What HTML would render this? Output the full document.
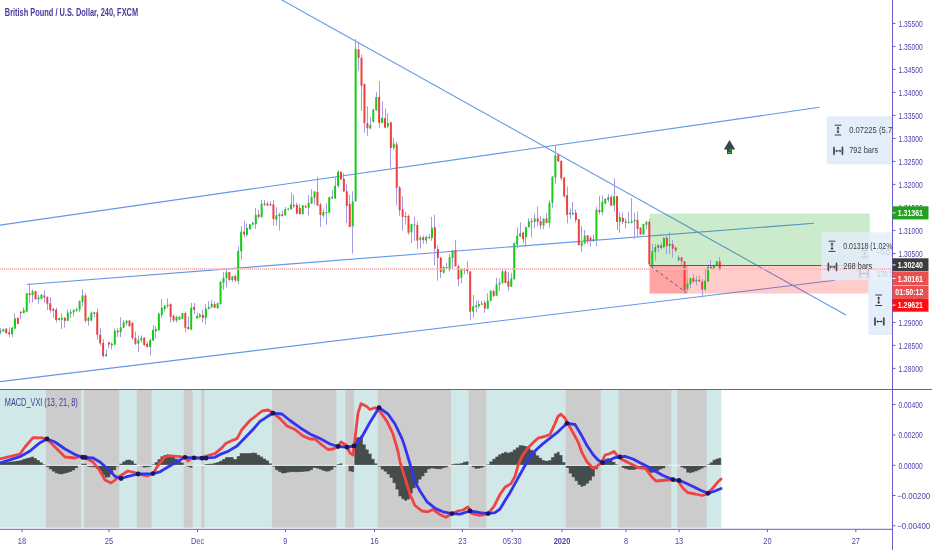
<!DOCTYPE html><html><head><meta charset="utf-8"><style>html,body{margin:0;padding:0;background:#fff;width:932px;height:550px;overflow:hidden}</style></head><body><svg width="932" height="550" viewBox="0 0 932 550" style="display:block;filter:blur(0.3px)">
<rect x="0" y="0" width="932" height="550" fill="#ffffff"/>
<rect x="0" y="390.0" width="721.26" height="137.60" fill="#d1e8e8"/>
<rect x="45.82" y="390.0" width="35.24" height="137.60" fill="#cccccc"/>
<rect x="84.00" y="390.0" width="35.24" height="137.60" fill="#cccccc"/>
<rect x="136.86" y="390.0" width="14.68" height="137.60" fill="#cccccc"/>
<rect x="183.84" y="390.0" width="8.81" height="137.60" fill="#cccccc"/>
<rect x="201.46" y="390.0" width="2.94" height="137.60" fill="#cccccc"/>
<rect x="271.94" y="390.0" width="64.61" height="137.60" fill="#cccccc"/>
<rect x="345.36" y="390.0" width="8.81" height="137.60" fill="#cccccc"/>
<rect x="377.67" y="390.0" width="73.42" height="137.60" fill="#cccccc"/>
<rect x="468.70" y="390.0" width="17.62" height="137.60" fill="#cccccc"/>
<rect x="565.61" y="390.0" width="35.24" height="137.60" fill="#cccccc"/>
<rect x="618.48" y="390.0" width="52.86" height="137.60" fill="#cccccc"/>
<rect x="677.21" y="390.0" width="29.37" height="137.60" fill="#cccccc"/>
<path d="M-1.17,465.2 L-1.17,462.66 L1.77,462.66 L1.77,462.31 L4.71,462.31 L4.71,461.96 L7.64,461.96 L7.64,461.61 L10.58,461.61 L10.58,461.30 L13.52,461.30 L13.52,461.00 L16.45,461.00 L16.45,460.59 L19.39,460.59 L19.39,459.97 L22.33,459.97 L22.33,458.86 L25.26,458.86 L25.26,457.95 L28.20,457.95 L28.20,457.19 L31.14,457.19 L31.14,456.58 L34.07,456.58 L34.07,458.04 L37.01,458.04 L37.01,459.97 L39.95,459.97 L39.95,462.20 L42.88,462.20 L42.88,464.26 L45.82,464.26 L45.82,467.21 L48.76,467.21 L48.76,469.38 L51.69,469.38 L51.69,471.73 L54.63,471.73 L54.63,473.40 L57.57,473.40 L57.57,474.35 L60.50,474.35 L60.50,474.50 L63.44,474.50 L63.44,473.85 L66.38,473.85 L66.38,473.05 L69.31,473.05 L69.31,472.03 L72.25,472.03 L72.25,470.62 L75.19,470.62 L75.19,468.35 L78.12,468.35 L78.12,465.41 L81.06,465.41 L81.06,463.60 L84.00,463.60 L84.00,463.60 L86.93,463.60 L86.93,467.03 L89.87,467.03 L89.87,467.29 L92.81,467.29 L92.81,467.54 L95.74,467.54 L95.74,469.10 L98.68,469.10 L98.68,471.21 L101.62,471.21 L101.62,475.32 L104.55,475.32 L104.55,477.86 L107.49,477.86 L107.49,477.45 L110.43,477.45 L110.43,474.53 L113.36,474.53 L113.36,470.25 L116.30,470.25 L116.30,466.68 L119.24,466.68 L119.24,463.59 L122.17,463.59 L122.17,461.35 L125.11,461.35 L125.11,459.71 L128.05,459.71 L128.05,459.38 L130.98,459.38 L130.98,460.45 L133.92,460.45 L133.92,463.39 L136.86,463.39 L136.86,465.16 L139.79,465.16 L139.79,466.50 L142.73,466.50 L142.73,467.68 L145.67,467.68 L145.67,467.57 L148.60,467.57 L148.60,466.93 L151.54,466.93 L151.54,464.33 L154.48,464.33 L154.48,462.05 L157.41,462.05 L157.41,459.12 L160.35,459.12 L160.35,456.18 L163.29,456.18 L163.29,454.90 L166.22,454.90 L166.22,454.14 L169.16,454.14 L169.16,454.73 L172.10,454.73 L172.10,456.25 L175.03,456.25 L175.03,458.60 L177.97,458.60 L177.97,460.46 L180.91,460.46 L180.91,462.31 L183.84,462.31 L183.84,464.76 L186.78,464.76 L186.78,467.08 L189.72,467.08 L189.72,467.88 L192.65,467.88 L192.65,465.96 L195.59,465.96 L195.59,465.00 L198.53,465.00 L198.53,465.00 L201.46,465.00 L201.46,465.00 L204.40,465.00 L204.40,463.94 L207.34,463.94 L207.34,463.73 L210.27,463.73 L210.27,463.52 L213.21,463.52 L213.21,462.83 L216.15,462.83 L216.15,462.10 L219.08,462.10 L219.08,460.72 L222.02,460.72 L222.02,458.88 L224.96,458.88 L224.96,456.99 L227.89,456.99 L227.89,456.89 L230.83,456.89 L230.83,457.00 L233.77,457.00 L233.77,458.98 L236.70,458.98 L236.70,455.97 L239.64,455.97 L239.64,453.00 L242.58,453.00 L242.58,453.00 L245.51,453.00 L245.51,453.00 L248.45,453.00 L248.45,453.00 L251.39,453.00 L251.39,452.60 L254.32,452.60 L254.32,452.81 L257.26,452.81 L257.26,454.70 L260.20,454.70 L260.20,456.59 L263.13,456.59 L263.13,458.41 L266.07,458.41 L266.07,460.22 L269.01,460.22 L269.01,463.29 L271.94,463.29 L271.94,466.77 L274.88,466.77 L274.88,470.20 L277.82,470.20 L277.82,471.89 L280.75,471.89 L280.75,473.56 L283.69,473.56 L283.69,473.48 L286.63,473.48 L286.63,472.76 L289.56,472.76 L289.56,472.30 L292.50,472.30 L292.50,472.30 L295.44,472.30 L295.44,472.30 L298.38,472.30 L298.38,472.30 L301.31,472.30 L301.31,472.05 L304.25,472.05 L304.25,471.79 L307.19,471.79 L307.19,471.52 L310.12,471.52 L310.12,470.22 L313.06,470.22 L313.06,468.05 L316.00,468.05 L316.00,468.69 L318.93,468.69 L318.93,469.86 L321.87,469.86 L321.87,470.90 L324.81,470.90 L324.81,471.78 L327.74,471.78 L327.74,471.62 L330.68,471.62 L330.68,469.98 L333.62,469.98 L333.62,467.16 L336.55,467.16 L336.55,464.08 L339.49,464.08 L339.49,463.16 L342.43,463.16 L342.43,465.00 L345.36,465.00 L345.36,465.00 L348.30,465.00 L348.30,471.45 L351.24,471.45 L351.24,472.30 L354.17,472.30 L354.17,437.70 L357.11,437.70 L357.11,436.99 L360.05,436.99 L360.05,435.54 L362.98,435.54 L362.98,444.35 L365.92,444.35 L365.92,449.34 L368.86,449.34 L368.86,453.58 L371.79,453.58 L371.79,458.87 L374.73,458.87 L374.73,463.20 L377.67,463.20 L377.67,466.81 L380.60,466.81 L380.60,469.69 L383.54,469.69 L383.54,471.81 L386.48,471.81 L386.48,474.51 L389.41,474.51 L389.41,478.00 L392.35,478.00 L392.35,483.35 L395.29,483.35 L395.29,489.64 L398.22,489.64 L398.22,496.57 L401.16,496.57 L401.16,499.24 L404.10,499.24 L404.10,501.00 L407.03,501.00 L407.03,499.85 L409.97,499.85 L409.97,493.78 L412.91,493.78 L412.91,488.44 L415.84,488.44 L415.84,483.93 L418.78,483.93 L418.78,479.73 L421.72,479.73 L421.72,476.50 L424.65,476.50 L424.65,473.09 L427.59,473.09 L427.59,469.39 L430.53,469.39 L430.53,468.52 L433.46,468.52 L433.46,468.99 L436.40,468.99 L436.40,469.29 L439.34,469.29 L439.34,469.25 L442.27,469.25 L442.27,468.32 L445.21,468.32 L445.21,467.40 L448.15,467.40 L448.15,466.10 L451.08,466.10 L451.08,464.06 L454.02,464.06 L454.02,463.41 L456.96,463.41 L456.96,463.53 L459.89,463.53 L459.89,463.03 L462.83,463.03 L462.83,461.79 L465.77,461.79 L465.77,461.13 L468.70,461.13 L468.70,465.14 L471.64,465.14 L471.64,467.49 L474.58,467.49 L474.58,468.94 L477.51,468.94 L477.51,468.76 L480.45,468.76 L480.45,467.96 L483.39,467.96 L483.39,466.84 L486.32,466.84 L486.32,464.21 L489.26,464.21 L489.26,461.34 L492.20,461.34 L492.20,458.70 L495.13,458.70 L495.13,456.38 L498.07,456.38 L498.07,454.32 L501.01,454.32 L501.01,452.91 L503.94,452.91 L503.94,451.87 L506.88,451.87 L506.88,452.40 L509.82,452.40 L509.82,451.75 L512.75,451.75 L512.75,449.58 L515.69,449.58 L515.69,447.27 L518.63,447.27 L518.63,445.01 L521.56,445.01 L521.56,445.30 L524.50,445.30 L524.50,446.02 L527.44,446.02 L527.44,447.61 L530.37,447.61 L530.37,449.86 L533.31,449.86 L533.31,452.50 L536.25,452.50 L536.25,455.20 L539.18,455.20 L539.18,457.78 L542.12,457.78 L542.12,459.96 L545.06,459.96 L545.06,460.69 L547.99,460.69 L547.99,460.11 L550.93,460.11 L550.93,457.12 L553.87,457.12 L553.87,453.25 L556.80,453.25 L556.80,451.72 L559.74,451.72 L559.74,454.92 L562.68,454.92 L562.68,462.10 L565.61,462.10 L565.61,468.06 L568.55,468.06 L568.55,473.63 L571.49,473.63 L571.49,477.38 L574.42,477.38 L574.42,481.14 L577.36,481.14 L577.36,484.90 L580.30,484.90 L580.30,486.93 L583.23,486.93 L583.23,486.04 L586.17,486.04 L586.17,483.87 L589.11,483.87 L589.11,480.82 L592.05,480.82 L592.05,476.80 L594.98,476.80 L594.98,469.44 L597.92,469.44 L597.92,465.77 L600.86,465.77 L600.86,460.74 L603.79,460.74 L603.79,458.93 L606.73,458.93 L606.73,458.10 L609.67,458.10 L609.67,458.76 L612.60,458.76 L612.60,461.75 L615.54,461.75 L615.54,464.24 L618.48,464.24 L618.48,465.00 L621.41,465.00 L621.41,468.12 L624.35,468.12 L624.35,469.20 L627.29,469.20 L627.29,470.00 L630.22,470.00 L630.22,470.00 L633.16,470.00 L633.16,470.00 L636.10,470.00 L636.10,469.08 L639.03,469.08 L639.03,468.38 L641.97,468.38 L641.97,469.44 L644.91,469.44 L644.91,470.91 L647.84,470.91 L647.84,472.85 L650.78,472.85 L650.78,473.03 L653.72,473.03 L653.72,472.60 L656.65,472.60 L656.65,471.01 L659.59,471.01 L659.59,469.62 L662.53,469.62 L662.53,468.56 L665.46,468.56 L665.46,466.14 L668.40,466.14 L668.40,465.00 L671.34,465.00 L671.34,465.00 L674.27,465.00 L674.27,465.00 L677.21,465.00 L677.21,465.58 L680.15,465.58 L680.15,467.44 L683.08,467.44 L683.08,468.79 L686.02,468.79 L686.02,472.81 L688.96,472.81 L688.96,473.16 L691.89,473.16 L691.89,472.56 L694.83,472.56 L694.83,471.43 L697.77,471.43 L697.77,470.30 L700.70,470.30 L700.70,468.83 L703.64,468.83 L703.64,467.18 L706.58,467.18 L706.58,464.30 L709.51,464.30 L709.51,462.21 L712.45,462.21 L712.45,459.87 L715.39,459.87 L715.39,458.47 L718.32,458.47 L718.32,457.64 L721.26,457.64 L721.26,465.2 Z" fill="#454c4c" stroke="#ffffff" stroke-opacity="0.55" stroke-width="0.6"/>
<line x1="0" y1="465.5" x2="721.26" y2="465.5" stroke="#eef6f6" stroke-width="0.8"/>
<polyline points="0,459 20,454 25,447 33,437.6 42,437.8 47,439 55,447 65,457 75,458 82,456 93,462 100,471 105,480 111,483 115,480 120,476 128,471 135,472.7 140,474.5 147,476 153,473.6 158,465.5 165,457 170,455.8 180,456.7 186,457.8 188,461 192,458 200,458 208,455.5 215,453.6 222,447.6 226,443.2 232,440.5 237,438.6 242,429.5 250,420.5 257,415 262,411 268,410 273,412.8 280,418.6 287,426 295,429.5 303,436 310,439 315,439 322,445 328,449.5 333,449 338,446.5 341,442 346,445 350,453 353,455 355,438.6 358,413.2 361,403.7 366,406 370,409.5 375,407.7 380,411.4 387,421.4 393,434 398,451.4 400,461.8 405,478 410,494.5 415,505.5 422,511 428,511.8 433,509.5 440,514.5 446,517.3 452,513.6 458,511 463,510 468,507 472,513.6 480,515.5 488,513.6 494,506.4 500,494.5 505,487.3 511,483.6 515,476.4 518,465.5 522,456.4 527,449 533,442.7 538,438.2 545,436.4 550,434.5 555,423.6 558,416.4 561,414.2 565,418.2 568,423.6 573,432.7 578,441.8 582,452.7 587,461.8 593,468.2 597,466.4 602,461.8 605,455 610,453.6 614,451.5 618,456.4 623,460 630,463.6 636,466.4 640,468.2 645,467.8 648,471.8 652,477.3 656,481 662,480.5 668,480 673,480 678,481 683,488.2 688,492.7 695,494 702,495.5 706,494.5 712,489 718,481.8 721,479" fill="none" stroke="#f04444" stroke-width="2.8" stroke-linejoin="round" stroke-linecap="round"/>
<polyline points="0,463 20,456.7 30,451 40,442.7 47,439 55,442 65,449 75,454.5 83,457.5 93,458 100,462 110,471 115,476.4 121,478.5 128,476.4 138,474 153,473.6 160,471.8 170,465.8 180,460 185,457.3 194,457.8 204,458.2 215,457.3 222,453.6 228,451.4 237,446 245,437.7 253,429.5 260,421.4 267,416.8 273,413.2 282,414 290,420.5 300,427.7 310,434 320,438.6 330,444 338,446.5 347,447.2 354,446 362,436.8 370,422.3 379,407.7 388,414 395,424 402,438.6 405,447.3 410,464 415,481.8 420,491 427,501.8 435,508.2 443,511.8 452,513.6 460,514.2 470,511 480,512.7 488,513.6 495,512.7 500,509 506,499 510,492.7 515,483.6 520,474.5 525,465.5 530,456.4 537,449 543,443.6 550,438.2 558,431.8 567,423.3 575,424.5 580,432.7 587,445.5 593,454.5 598,460 603,462.7 610,460 615,457.6 620,457 625,456.4 633,459 640,462.7 648,466.7 655,471 663,475.5 673,479.6 679,480.4 685,482.7 693,486.4 700,490 708,493.3 715,491 721,488.5" fill="none" stroke="#3434f0" stroke-width="2.8" stroke-linejoin="round" stroke-linecap="round"/>
<circle cx="47" cy="439" r="2.4" fill="#1c1650"/>
<circle cx="82.7" cy="457.4" r="2.4" fill="#1c1650"/>
<circle cx="85.2" cy="457.4" r="2.4" fill="#1c1650"/>
<circle cx="121" cy="478.5" r="2.4" fill="#1c1650"/>
<circle cx="138" cy="474" r="2.4" fill="#1c1650"/>
<circle cx="153" cy="473.6" r="2.4" fill="#1c1650"/>
<circle cx="185" cy="457.3" r="2.4" fill="#1c1650"/>
<circle cx="194" cy="457.8" r="2.4" fill="#1c1650"/>
<circle cx="202" cy="458.2" r="2.4" fill="#1c1650"/>
<circle cx="206" cy="458.2" r="2.4" fill="#1c1650"/>
<circle cx="273" cy="413.2" r="2.4" fill="#1c1650"/>
<circle cx="338" cy="446.5" r="2.4" fill="#1c1650"/>
<circle cx="347" cy="447.2" r="2.4" fill="#1c1650"/>
<circle cx="354" cy="446" r="2.4" fill="#1c1650"/>
<circle cx="379" cy="407.7" r="2.4" fill="#1c1650"/>
<circle cx="452" cy="513.6" r="2.4" fill="#1c1650"/>
<circle cx="470" cy="511" r="2.4" fill="#1c1650"/>
<circle cx="488" cy="513.6" r="2.4" fill="#1c1650"/>
<circle cx="567" cy="423.3" r="2.4" fill="#1c1650"/>
<circle cx="602.5" cy="462.7" r="2.4" fill="#1c1650"/>
<circle cx="620" cy="457" r="2.4" fill="#1c1650"/>
<circle cx="673" cy="479.6" r="2.4" fill="#1c1650"/>
<circle cx="679" cy="480.4" r="2.4" fill="#1c1650"/>
<circle cx="708" cy="493.3" r="2.4" fill="#1c1650"/>
<line x1="281" y1="-0.5" x2="846" y2="315" stroke="#6497e8" stroke-width="1.1"/>
<line x1="0" y1="225.1" x2="819.4" y2="107.3" stroke="#6497e8" stroke-width="1.1"/>
<line x1="0" y1="381.6" x2="835" y2="280.2" stroke="#6497e8" stroke-width="1.1"/>
<line x1="27" y1="284.5" x2="814" y2="223.2" stroke="#6497e8" stroke-width="1.1"/>
<rect x="649.6" y="213.6" width="220.1" height="51.9" fill="rgb(0,150,0)" fill-opacity="0.2"/>
<rect x="649.6" y="265.5" width="220.1" height="28.1" fill="rgb(255,0,0)" fill-opacity="0.2"/>
<rect x="649.6" y="265.5" width="38.3" height="28.0" fill="rgb(255,0,0)" fill-opacity="0.2"/>
<g fill="#a89ae6"><rect x="0" y="328.19" width="1" height="6.06"/><rect x="3" y="328.68" width="1" height="3.60"/><rect x="6" y="328.19" width="1" height="5.40"/><rect x="9" y="327.37" width="1" height="9.82"/><rect x="12" y="326.55" width="1" height="10.64"/><rect x="14" y="313.46" width="1" height="15.55"/><rect x="17" y="317.23" width="1" height="7.20"/><rect x="20" y="311.01" width="1" height="8.18"/><rect x="23" y="307.41" width="1" height="6.06"/><rect x="26" y="293.00" width="1" height="18.82"/><rect x="29" y="282.86" width="1" height="19.97"/><rect x="32" y="289.40" width="1" height="13.09"/><rect x="35" y="290.71" width="1" height="8.84"/><rect x="38" y="294.97" width="1" height="8.67"/><rect x="41" y="293.99" width="1" height="5.24"/><rect x="44" y="290.22" width="1" height="12.60"/><rect x="47" y="296.28" width="1" height="13.91"/><rect x="50" y="297.09" width="1" height="15.55"/><rect x="53" y="307.73" width="1" height="10.15"/><rect x="56" y="307.73" width="1" height="14.73"/><rect x="59" y="317.55" width="1" height="3.27"/><rect x="61" y="313.46" width="1" height="15.55"/><rect x="64" y="317.23" width="1" height="10.47"/><rect x="67" y="309.37" width="1" height="11.78"/><rect x="70" y="309.37" width="1" height="8.51"/><rect x="73" y="309.04" width="1" height="7.20"/><rect x="76" y="307.73" width="1" height="4.09"/><rect x="79" y="300.37" width="1" height="11.46"/><rect x="82" y="289.40" width="1" height="16.69"/><rect x="85" y="293.33" width="1" height="29.46"/><rect x="88" y="316.73" width="1" height="9.00"/><rect x="91" y="311.33" width="1" height="9.82"/><rect x="94" y="311.82" width="1" height="5.73"/><rect x="97" y="308.55" width="1" height="31.10"/><rect x="100" y="328.19" width="1" height="17.51"/><rect x="103" y="339.16" width="1" height="18.49"/><rect x="106" y="349.47" width="1" height="7.36"/><rect x="108" y="341.78" width="1" height="6.55"/><rect x="111" y="342.43" width="1" height="7.04"/><rect x="114" y="328.68" width="1" height="16.69"/><rect x="117" y="328.19" width="1" height="9.00"/><rect x="120" y="317.23" width="1" height="19.97"/><rect x="123" y="320.01" width="1" height="8.18"/><rect x="126" y="320.01" width="1" height="5.73"/><rect x="129" y="320.01" width="1" height="7.04"/><rect x="132" y="322.46" width="1" height="17.18"/><rect x="135" y="331.46" width="1" height="13.58"/><rect x="138" y="335.56" width="1" height="16.69"/><rect x="141" y="335.23" width="1" height="7.20"/><rect x="144" y="337.19" width="1" height="8.51"/><rect x="147" y="341.78" width="1" height="5.56"/><rect x="150" y="338.01" width="1" height="17.51"/><rect x="153" y="324.92" width="1" height="15.88"/><rect x="155" y="326.19" width="1" height="12.27"/><rect x="158" y="312.61" width="1" height="18.00"/><rect x="161" y="298.86" width="1" height="19.15"/><rect x="164" y="304.92" width="1" height="6.55"/><rect x="167" y="298.37" width="1" height="9.82"/><rect x="170" y="303.28" width="1" height="19.15"/><rect x="173" y="314.25" width="1" height="8.18"/><rect x="176" y="315.88" width="1" height="6.55"/><rect x="179" y="315.88" width="1" height="4.26"/><rect x="182" y="312.61" width="1" height="6.55"/><rect x="185" y="311.46" width="1" height="20.46"/><rect x="188" y="316.37" width="1" height="13.58"/><rect x="191" y="302.79" width="1" height="27.50"/><rect x="194" y="302.79" width="1" height="11.46"/><rect x="197" y="312.61" width="1" height="6.22"/><rect x="199" y="313.10" width="1" height="4.91"/><rect x="202" y="309.83" width="1" height="12.60"/><rect x="205" y="304.10" width="1" height="20.46"/><rect x="208" y="301.15" width="1" height="8.18"/><rect x="211" y="300.01" width="1" height="7.69"/><rect x="214" y="301.64" width="1" height="6.55"/><rect x="217" y="302.46" width="1" height="6.22"/><rect x="220" y="280.91" width="1" height="23.64"/><rect x="223" y="271.82" width="1" height="18.18"/><rect x="226" y="269.55" width="1" height="18.18"/><rect x="229" y="271.82" width="1" height="9.09"/><rect x="232" y="275.91" width="1" height="5.91"/><rect x="235" y="274.55" width="1" height="7.27"/><rect x="238" y="246.36" width="1" height="37.73"/><rect x="241" y="225.92" width="1" height="33.55"/><rect x="244" y="220.68" width="1" height="16.69"/><rect x="246" y="223.46" width="1" height="13.09"/><rect x="249" y="223.95" width="1" height="5.56"/><rect x="252" y="221.33" width="1" height="3.76"/><rect x="255" y="207.91" width="1" height="20.95"/><rect x="258" y="209.88" width="1" height="8.67"/><rect x="261" y="200.06" width="1" height="17.68"/><rect x="264" y="200.06" width="1" height="5.89"/><rect x="267" y="201.37" width="1" height="4.91"/><rect x="270" y="201.37" width="1" height="4.58"/><rect x="273" y="200.06" width="1" height="25.53"/><rect x="276" y="207.09" width="1" height="18.49"/><rect x="279" y="212.50" width="1" height="18.00"/><rect x="282" y="210.37" width="1" height="6.06"/><rect x="285" y="207.09" width="1" height="8.67"/><rect x="288" y="207.91" width="1" height="2.45"/><rect x="291" y="192.36" width="1" height="17.51"/><rect x="293" y="194.82" width="1" height="13.42"/><rect x="296" y="202.68" width="1" height="11.46"/><rect x="299" y="203.82" width="1" height="10.64"/><rect x="302" y="204.97" width="1" height="9.49"/><rect x="305" y="205.01" width="1" height="2.78"/><rect x="308" y="195.19" width="1" height="20.13"/><rect x="311" y="189.13" width="1" height="15.06"/><rect x="314" y="191.10" width="1" height="13.42"/><rect x="317" y="176.69" width="1" height="29.46"/><rect x="320" y="202.88" width="1" height="23.90"/><rect x="323" y="208.77" width="1" height="8.84"/><rect x="326" y="203.37" width="1" height="21.28"/><rect x="329" y="196.33" width="1" height="16.86"/><rect x="332" y="189.79" width="1" height="9.17"/><rect x="335" y="177.68" width="1" height="21.28"/><rect x="338" y="170.15" width="1" height="18.00"/><rect x="340" y="171.46" width="1" height="8.51"/><rect x="343" y="173.09" width="1" height="18.82"/><rect x="346" y="184.20" width="1" height="38.90"/><rect x="349" y="194.80" width="1" height="32.10"/><rect x="352" y="191.30" width="1" height="62.40"/><rect x="355" y="39.10" width="1" height="162.40"/><rect x="358" y="42.40" width="1" height="28.30"/><rect x="361" y="54.60" width="1" height="56.20"/><rect x="364" y="83.50" width="1" height="49.40"/><rect x="367" y="106.20" width="1" height="29.70"/><rect x="370" y="116.90" width="1" height="12.40"/><rect x="373" y="108.70" width="1" height="13.80"/><rect x="376" y="92.30" width="1" height="18.30"/><rect x="379" y="81.20" width="1" height="46.50"/><rect x="382" y="101.30" width="1" height="21.80"/><rect x="385" y="108.60" width="1" height="19.70"/><rect x="387" y="113.30" width="1" height="15.00"/><rect x="390" y="121.50" width="1" height="46.10"/><rect x="393" y="137.80" width="1" height="12.30"/><rect x="396" y="141.90" width="1" height="63.50"/><rect x="399" y="186.00" width="1" height="29.70"/><rect x="402" y="196.37" width="1" height="34.37"/><rect x="405" y="211.91" width="1" height="12.60"/><rect x="408" y="214.37" width="1" height="20.46"/><rect x="411" y="223.86" width="1" height="19.15"/><rect x="414" y="216.82" width="1" height="24.06"/><rect x="417" y="221.73" width="1" height="27.33"/><rect x="420" y="235.65" width="1" height="12.77"/><rect x="423" y="235.65" width="1" height="8.18"/><rect x="426" y="235.65" width="1" height="8.18"/><rect x="429" y="234.01" width="1" height="4.91"/><rect x="431" y="216.82" width="1" height="24.06"/><rect x="434" y="214.70" width="1" height="50.41"/><rect x="437" y="245.73" width="1" height="34.86"/><rect x="440" y="257.18" width="1" height="20.79"/><rect x="443" y="266.19" width="1" height="7.36"/><rect x="446" y="262.91" width="1" height="5.73"/><rect x="449" y="253.91" width="1" height="17.51"/><rect x="452" y="249.82" width="1" height="18.82"/><rect x="455" y="240.00" width="1" height="27.00"/><rect x="458" y="264.55" width="1" height="21.60"/><rect x="461" y="269.13" width="1" height="14.24"/><rect x="464" y="267.82" width="1" height="6.55"/><rect x="467" y="261.28" width="1" height="13.09"/><rect x="470" y="271.10" width="1" height="49.10"/><rect x="473" y="294.83" width="1" height="22.91"/><rect x="476" y="300.56" width="1" height="11.46"/><rect x="478" y="300.56" width="1" height="7.86"/><rect x="481" y="300.88" width="1" height="4.26"/><rect x="484" y="300.23" width="1" height="12.60"/><rect x="487" y="293.19" width="1" height="15.88"/><rect x="490" y="289.92" width="1" height="11.46"/><rect x="493" y="289.92" width="1" height="7.36"/><rect x="496" y="277.64" width="1" height="18.33"/><rect x="499" y="278.46" width="1" height="12.60"/><rect x="502" y="269.46" width="1" height="14.73"/><rect x="505" y="269.46" width="1" height="13.91"/><rect x="508" y="271.91" width="1" height="18.82"/><rect x="511" y="272.73" width="1" height="14.40"/><rect x="514" y="241.64" width="1" height="37.97"/><rect x="517" y="227.46" width="1" height="20.46"/><rect x="520" y="222.23" width="1" height="15.06"/><rect x="523" y="231.55" width="1" height="11.46"/><rect x="525" y="226.64" width="1" height="20.46"/><rect x="528" y="218.46" width="1" height="9.00"/><rect x="531" y="217.97" width="1" height="19.31"/><rect x="534" y="213.55" width="1" height="14.24"/><rect x="537" y="206.51" width="1" height="19.64"/><rect x="540" y="216.33" width="1" height="12.77"/><rect x="543" y="217.97" width="1" height="11.13"/><rect x="546" y="213.06" width="1" height="10.31"/><rect x="549" y="200.46" width="1" height="27.33"/><rect x="552" y="175.92" width="1" height="31.91"/><rect x="555" y="145.15" width="1" height="38.63"/><rect x="558" y="153.33" width="1" height="8.67"/><rect x="561" y="160.37" width="1" height="20.13"/><rect x="564" y="177.23" width="1" height="20.29"/><rect x="567" y="186.55" width="1" height="36.82"/><rect x="570" y="208.64" width="1" height="10.31"/><rect x="572" y="202.09" width="1" height="13.09"/><rect x="575" y="209.46" width="1" height="13.09"/><rect x="578" y="218.95" width="1" height="26.51"/><rect x="581" y="226.01" width="1" height="26.19"/><rect x="584" y="230.10" width="1" height="14.24"/><rect x="587" y="235.01" width="1" height="9.00"/><rect x="590" y="235.83" width="1" height="10.64"/><rect x="593" y="234.52" width="1" height="7.53"/><rect x="596" y="207.18" width="1" height="39.28"/><rect x="599" y="195.73" width="1" height="18.82"/><rect x="602" y="195.73" width="1" height="19.64"/><rect x="605" y="198.18" width="1" height="6.22"/><rect x="608" y="194.09" width="1" height="8.18"/><rect x="611" y="194.91" width="1" height="11.13"/><rect x="614" y="178.22" width="1" height="33.06"/><rect x="617" y="195.73" width="1" height="34.37"/><rect x="619" y="212.09" width="1" height="20.79"/><rect x="622" y="212.59" width="1" height="11.46"/><rect x="625" y="218.15" width="1" height="10.31"/><rect x="628" y="212.09" width="1" height="11.46"/><rect x="631" y="198.18" width="1" height="25.37"/><rect x="634" y="212.91" width="1" height="26.19"/><rect x="637" y="211.60" width="1" height="25.04"/><rect x="640" y="227.32" width="1" height="7.69"/><rect x="643" y="223.55" width="1" height="11.46"/><rect x="646" y="220.77" width="1" height="8.51"/><rect x="649" y="219.13" width="1" height="46.48"/><rect x="652" y="243.82" width="1" height="26.68"/><rect x="655" y="244.31" width="1" height="16.37"/><rect x="658" y="244.31" width="1" height="7.69"/><rect x="661" y="242.68" width="1" height="6.87"/><rect x="663" y="237.27" width="1" height="10.64"/><rect x="666" y="234.00" width="1" height="20.13"/><rect x="669" y="231.55" width="1" height="22.59"/><rect x="672" y="240.06" width="1" height="17.35"/><rect x="675" y="246.28" width="1" height="5.73"/><rect x="678" y="255.28" width="1" height="6.06"/><rect x="681" y="256.91" width="1" height="8.18"/><rect x="684" y="261.01" width="1" height="32.73"/><rect x="687" y="279.01" width="1" height="11.46"/><rect x="690" y="277.70" width="1" height="10.31"/><rect x="693" y="274.10" width="1" height="8.18"/><rect x="696" y="276.06" width="1" height="9.17"/><rect x="699" y="275.41" width="1" height="6.55"/><rect x="702" y="279.01" width="1" height="18.33"/><rect x="705" y="269.19" width="1" height="22.09"/><rect x="708" y="264.28" width="1" height="17.68"/><rect x="710" y="260.19" width="1" height="9.00"/><rect x="713" y="264.61" width="1" height="4.91"/><rect x="716" y="260.68" width="1" height="5.56"/><rect x="719" y="256.91" width="1" height="13.58"/></g>
<g><rect x="-0.70" y="330.65" width="2" height="1.96" fill="#16cc16"/><rect x="2.24" y="329.34" width="2" height="2.13" fill="#16cc16"/><rect x="5.17" y="328.68" width="2" height="4.42" fill="#ee4040"/><rect x="8.11" y="332.28" width="2" height="1.96" fill="#ee4040"/><rect x="11.05" y="327.70" width="2" height="6.55" fill="#16cc16"/><rect x="13.98" y="318.37" width="2" height="10.31" fill="#16cc16"/><rect x="16.92" y="318.04" width="2" height="5.73" fill="#ee4040"/><rect x="19.86" y="311.82" width="2" height="1.31" fill="#ee4040"/><rect x="22.79" y="309.86" width="2" height="3.11" fill="#16cc16"/><rect x="25.73" y="293.33" width="2" height="18.49" fill="#16cc16"/><rect x="28.67" y="293.33" width="2" height="1.64" fill="#ee4040"/><rect x="31.60" y="291.37" width="2" height="3.60" fill="#16cc16"/><rect x="34.54" y="291.04" width="2" height="8.18" fill="#ee4040"/><rect x="37.48" y="297.59" width="2" height="1.64" fill="#16cc16"/><rect x="40.41" y="294.64" width="2" height="4.09" fill="#16cc16"/><rect x="43.35" y="295.46" width="2" height="2.13" fill="#ee4040"/><rect x="46.29" y="297.09" width="2" height="6.55" fill="#ee4040"/><rect x="49.22" y="303.15" width="2" height="7.04" fill="#ee4040"/><rect x="52.16" y="309.04" width="2" height="1.64" fill="#ee4040"/><rect x="55.10" y="309.70" width="2" height="10.31" fill="#ee4040"/><rect x="58.03" y="318.37" width="2" height="1.64" fill="#16cc16"/><rect x="60.97" y="317.88" width="2" height="1.80" fill="#16cc16"/><rect x="63.91" y="317.88" width="2" height="2.95" fill="#ee4040"/><rect x="66.84" y="312.64" width="2" height="8.18" fill="#16cc16"/><rect x="69.78" y="311.82" width="2" height="1.64" fill="#16cc16"/><rect x="72.72" y="310.19" width="2" height="2.13" fill="#16cc16"/><rect x="75.65" y="309.37" width="2" height="1.64" fill="#16cc16"/><rect x="78.59" y="301.19" width="2" height="8.51" fill="#16cc16"/><rect x="81.53" y="295.46" width="2" height="6.55" fill="#16cc16"/><rect x="84.46" y="295.46" width="2" height="25.37" fill="#ee4040"/><rect x="87.40" y="317.88" width="2" height="2.95" fill="#16cc16"/><rect x="90.34" y="312.64" width="2" height="7.86" fill="#16cc16"/><rect x="93.27" y="312.32" width="2" height="1.64" fill="#16cc16"/><rect x="96.21" y="312.32" width="2" height="22.42" fill="#ee4040"/><rect x="99.15" y="334.74" width="2" height="8.67" fill="#ee4040"/><rect x="102.08" y="342.92" width="2" height="13.09" fill="#ee4040"/><rect x="105.02" y="354.38" width="2" height="1.64" fill="#16cc16"/><rect x="107.96" y="342.43" width="2" height="2.13" fill="#ee4040"/><rect x="110.89" y="343.74" width="2" height="1.64" fill="#16cc16"/><rect x="113.83" y="330.65" width="2" height="13.91" fill="#16cc16"/><rect x="116.77" y="330.65" width="2" height="1.64" fill="#ee4040"/><rect x="119.70" y="327.37" width="2" height="4.91" fill="#16cc16"/><rect x="122.64" y="322.46" width="2" height="5.24" fill="#16cc16"/><rect x="125.58" y="320.83" width="2" height="2.45" fill="#16cc16"/><rect x="128.51" y="320.50" width="2" height="5.56" fill="#ee4040"/><rect x="131.45" y="322.79" width="2" height="15.22" fill="#ee4040"/><rect x="134.39" y="338.01" width="2" height="5.73" fill="#ee4040"/><rect x="137.32" y="340.14" width="2" height="3.60" fill="#16cc16"/><rect x="140.26" y="338.01" width="2" height="2.45" fill="#16cc16"/><rect x="143.20" y="337.68" width="2" height="7.36" fill="#ee4040"/><rect x="146.14" y="343.74" width="2" height="3.27" fill="#ee4040"/><rect x="149.07" y="340.14" width="2" height="6.87" fill="#16cc16"/><rect x="152.01" y="329.83" width="2" height="10.64" fill="#16cc16"/><rect x="154.95" y="328.98" width="2" height="2.13" fill="#16cc16"/><rect x="157.88" y="313.59" width="2" height="16.69" fill="#16cc16"/><rect x="160.82" y="307.70" width="2" height="7.53" fill="#16cc16"/><rect x="163.76" y="305.74" width="2" height="3.27" fill="#16cc16"/><rect x="166.69" y="304.92" width="2" height="1.15" fill="#16cc16"/><rect x="169.63" y="304.10" width="2" height="12.77" fill="#ee4040"/><rect x="172.57" y="315.88" width="2" height="4.58" fill="#ee4040"/><rect x="175.50" y="316.87" width="2" height="3.60" fill="#16cc16"/><rect x="178.44" y="316.87" width="2" height="2.78" fill="#16cc16"/><rect x="181.38" y="313.10" width="2" height="5.73" fill="#16cc16"/><rect x="184.31" y="313.10" width="2" height="14.73" fill="#ee4040"/><rect x="187.25" y="327.01" width="2" height="1.96" fill="#ee4040"/><rect x="190.19" y="307.70" width="2" height="21.77" fill="#16cc16"/><rect x="193.12" y="307.05" width="2" height="2.78" fill="#ee4040"/><rect x="196.06" y="315.88" width="2" height="2.62" fill="#16cc16"/><rect x="199.00" y="314.74" width="2" height="2.13" fill="#16cc16"/><rect x="201.93" y="314.74" width="2" height="3.27" fill="#ee4040"/><rect x="204.87" y="308.68" width="2" height="9.33" fill="#16cc16"/><rect x="207.81" y="307.05" width="2" height="1.96" fill="#16cc16"/><rect x="210.74" y="303.77" width="2" height="3.60" fill="#16cc16"/><rect x="213.68" y="304.10" width="2" height="3.60" fill="#ee4040"/><rect x="216.62" y="303.28" width="2" height="4.91" fill="#16cc16"/><rect x="219.55" y="281.82" width="2" height="22.27" fill="#16cc16"/><rect x="222.49" y="277.91" width="2" height="4.82" fill="#16cc16"/><rect x="225.43" y="272.27" width="2" height="5.91" fill="#16cc16"/><rect x="228.36" y="272.09" width="2" height="7.91" fill="#ee4040"/><rect x="231.30" y="276.36" width="2" height="3.64" fill="#16cc16"/><rect x="234.24" y="275.91" width="2" height="4.55" fill="#ee4040"/><rect x="237.17" y="250.91" width="2" height="30.00" fill="#16cc16"/><rect x="240.11" y="231.64" width="2" height="19.64" fill="#16cc16"/><rect x="243.05" y="231.64" width="2" height="2.78" fill="#ee4040"/><rect x="245.98" y="227.88" width="2" height="7.04" fill="#16cc16"/><rect x="248.92" y="224.28" width="2" height="4.91" fill="#16cc16"/><rect x="251.86" y="222.97" width="2" height="1.64" fill="#16cc16"/><rect x="254.79" y="214.79" width="2" height="9.49" fill="#16cc16"/><rect x="257.73" y="214.46" width="2" height="2.45" fill="#ee4040"/><rect x="260.67" y="203.82" width="2" height="13.09" fill="#16cc16"/><rect x="263.60" y="203.33" width="2" height="1.31" fill="#ee4040"/><rect x="266.54" y="203.82" width="2" height="1.64" fill="#ee4040"/><rect x="269.48" y="204.31" width="2" height="1.15" fill="#ee4040"/><rect x="272.41" y="204.31" width="2" height="14.73" fill="#ee4040"/><rect x="275.35" y="215.28" width="2" height="4.42" fill="#16cc16"/><rect x="278.29" y="214.46" width="2" height="1.64" fill="#16cc16"/><rect x="281.22" y="214.46" width="2" height="1.64" fill="#ee4040"/><rect x="284.16" y="209.22" width="2" height="6.06" fill="#16cc16"/><rect x="287.10" y="208.73" width="2" height="1.00" fill="#16cc16"/><rect x="290.03" y="204.31" width="2" height="4.91" fill="#16cc16"/><rect x="292.97" y="204.97" width="2" height="1.31" fill="#ee4040"/><rect x="295.91" y="204.97" width="2" height="8.67" fill="#ee4040"/><rect x="298.84" y="207.91" width="2" height="6.22" fill="#ee4040"/><rect x="301.78" y="205.46" width="2" height="8.67" fill="#16cc16"/><rect x="304.72" y="206.15" width="2" height="1.31" fill="#ee4040"/><rect x="307.65" y="202.88" width="2" height="4.91" fill="#16cc16"/><rect x="310.59" y="197.32" width="2" height="6.06" fill="#16cc16"/><rect x="313.53" y="191.42" width="2" height="6.55" fill="#16cc16"/><rect x="316.46" y="191.91" width="2" height="13.58" fill="#ee4040"/><rect x="319.40" y="204.52" width="2" height="10.31" fill="#ee4040"/><rect x="322.34" y="212.05" width="2" height="3.60" fill="#16cc16"/><rect x="325.27" y="212.05" width="2" height="1.15" fill="#16cc16"/><rect x="328.21" y="197.32" width="2" height="15.38" fill="#16cc16"/><rect x="331.15" y="196.82" width="2" height="1.64" fill="#16cc16"/><rect x="334.08" y="185.86" width="2" height="12.60" fill="#16cc16"/><rect x="337.02" y="171.78" width="2" height="14.08" fill="#16cc16"/><rect x="339.96" y="171.78" width="2" height="7.53" fill="#ee4040"/><rect x="342.89" y="178.82" width="2" height="12.60" fill="#ee4040"/><rect x="345.83" y="191.30" width="2" height="14.60" fill="#ee4040"/><rect x="348.77" y="204.00" width="2" height="22.90" fill="#ee4040"/><rect x="351.70" y="201.50" width="2" height="24.80" fill="#16cc16"/><rect x="354.64" y="48.90" width="2" height="152.60" fill="#16cc16"/><rect x="357.58" y="49.40" width="2" height="8.50" fill="#ee4040"/><rect x="360.51" y="57.90" width="2" height="27.80" fill="#ee4040"/><rect x="363.45" y="84.10" width="2" height="39.00" fill="#ee4040"/><rect x="366.39" y="123.10" width="2" height="5.20" fill="#ee4040"/><rect x="369.32" y="125.00" width="2" height="3.30" fill="#16cc16"/><rect x="372.26" y="109.50" width="2" height="12.30" fill="#16cc16"/><rect x="375.20" y="97.20" width="2" height="13.10" fill="#16cc16"/><rect x="378.13" y="96.90" width="2" height="25.90" fill="#ee4040"/><rect x="381.07" y="117.90" width="2" height="4.90" fill="#16cc16"/><rect x="384.01" y="118.20" width="2" height="9.50" fill="#ee4040"/><rect x="386.94" y="123.00" width="2" height="3.40" fill="#16cc16"/><rect x="389.88" y="122.30" width="2" height="25.70" fill="#ee4040"/><rect x="392.82" y="143.60" width="2" height="4.40" fill="#16cc16"/><rect x="395.75" y="144.40" width="2" height="43.30" fill="#ee4040"/><rect x="398.69" y="187.40" width="2" height="22.90" fill="#ee4040"/><rect x="401.63" y="209.46" width="2" height="7.36" fill="#ee4040"/><rect x="404.56" y="216.01" width="2" height="1.00" fill="#ee4040"/><rect x="407.50" y="216.01" width="2" height="16.69" fill="#ee4040"/><rect x="410.44" y="224.19" width="2" height="8.18" fill="#16cc16"/><rect x="413.37" y="224.52" width="2" height="1.00" fill="#16cc16"/><rect x="416.31" y="225.01" width="2" height="15.55" fill="#ee4040"/><rect x="419.25" y="237.61" width="2" height="2.13" fill="#16cc16"/><rect x="422.18" y="237.28" width="2" height="2.95" fill="#ee4040"/><rect x="425.12" y="236.96" width="2" height="3.60" fill="#16cc16"/><rect x="428.06" y="236.96" width="2" height="1.15" fill="#ee4040"/><rect x="430.99" y="227.79" width="2" height="10.31" fill="#16cc16"/><rect x="433.93" y="227.14" width="2" height="21.60" fill="#ee4040"/><rect x="436.87" y="249.00" width="2" height="9.00" fill="#ee4040"/><rect x="439.81" y="257.68" width="2" height="14.24" fill="#ee4040"/><rect x="442.74" y="267.00" width="2" height="5.73" fill="#16cc16"/><rect x="445.68" y="267.00" width="2" height="1.15" fill="#16cc16"/><rect x="448.62" y="257.18" width="2" height="12.27" fill="#16cc16"/><rect x="451.55" y="250.64" width="2" height="7.36" fill="#16cc16"/><rect x="454.49" y="250.15" width="2" height="16.04" fill="#ee4040"/><rect x="457.43" y="266.19" width="2" height="13.09" fill="#ee4040"/><rect x="460.36" y="269.46" width="2" height="8.18" fill="#16cc16"/><rect x="463.30" y="269.13" width="2" height="1.15" fill="#ee4040"/><rect x="466.24" y="269.13" width="2" height="1.96" fill="#ee4040"/><rect x="469.17" y="271.42" width="2" height="40.26" fill="#ee4040"/><rect x="472.11" y="306.28" width="2" height="5.40" fill="#16cc16"/><rect x="475.05" y="305.47" width="2" height="1.64" fill="#16cc16"/><rect x="477.98" y="304.16" width="2" height="2.13" fill="#16cc16"/><rect x="480.92" y="303.50" width="2" height="1.15" fill="#16cc16"/><rect x="483.86" y="302.52" width="2" height="5.89" fill="#ee4040"/><rect x="486.79" y="300.56" width="2" height="8.18" fill="#16cc16"/><rect x="489.73" y="290.74" width="2" height="10.15" fill="#16cc16"/><rect x="492.67" y="291.06" width="2" height="4.91" fill="#ee4040"/><rect x="495.60" y="284.52" width="2" height="11.13" fill="#16cc16"/><rect x="498.54" y="282.88" width="2" height="1.64" fill="#16cc16"/><rect x="501.48" y="271.42" width="2" height="11.46" fill="#16cc16"/><rect x="504.41" y="271.42" width="2" height="11.46" fill="#ee4040"/><rect x="507.35" y="280.92" width="2" height="5.73" fill="#ee4040"/><rect x="510.29" y="278.46" width="2" height="8.18" fill="#16cc16"/><rect x="513.22" y="243.27" width="2" height="36.01" fill="#16cc16"/><rect x="516.16" y="235.65" width="2" height="9.00" fill="#16cc16"/><rect x="519.10" y="233.19" width="2" height="3.27" fill="#16cc16"/><rect x="522.03" y="232.70" width="2" height="6.55" fill="#ee4040"/><rect x="524.97" y="227.14" width="2" height="10.15" fill="#16cc16"/><rect x="527.91" y="221.24" width="2" height="5.89" fill="#16cc16"/><rect x="530.84" y="220.92" width="2" height="1.31" fill="#ee4040"/><rect x="533.78" y="218.46" width="2" height="3.27" fill="#16cc16"/><rect x="536.72" y="218.46" width="2" height="3.27" fill="#ee4040"/><rect x="539.65" y="221.24" width="2" height="4.26" fill="#ee4040"/><rect x="542.59" y="218.95" width="2" height="6.55" fill="#16cc16"/><rect x="545.53" y="218.46" width="2" height="4.42" fill="#ee4040"/><rect x="548.46" y="202.91" width="2" height="19.97" fill="#16cc16"/><rect x="551.40" y="176.73" width="2" height="26.19" fill="#16cc16"/><rect x="554.34" y="155.46" width="2" height="22.09" fill="#16cc16"/><rect x="557.27" y="154.97" width="2" height="6.55" fill="#ee4040"/><rect x="560.21" y="160.86" width="2" height="17.51" fill="#ee4040"/><rect x="563.15" y="177.55" width="2" height="18.82" fill="#ee4040"/><rect x="566.08" y="195.23" width="2" height="19.64" fill="#ee4040"/><rect x="569.02" y="212.73" width="2" height="1.64" fill="#16cc16"/><rect x="571.96" y="213.06" width="2" height="1.31" fill="#16cc16"/><rect x="574.89" y="212.73" width="2" height="7.36" fill="#ee4040"/><rect x="577.83" y="219.28" width="2" height="25.86" fill="#ee4040"/><rect x="580.77" y="242.70" width="2" height="2.95" fill="#16cc16"/><rect x="583.70" y="235.50" width="2" height="7.69" fill="#16cc16"/><rect x="586.64" y="235.50" width="2" height="5.56" fill="#ee4040"/><rect x="589.58" y="237.79" width="2" height="2.62" fill="#ee4040"/><rect x="592.51" y="239.10" width="2" height="1.64" fill="#16cc16"/><rect x="595.45" y="209.64" width="2" height="30.28" fill="#16cc16"/><rect x="598.39" y="209.97" width="2" height="2.13" fill="#ee4040"/><rect x="601.32" y="201.78" width="2" height="10.31" fill="#16cc16"/><rect x="604.26" y="199.00" width="2" height="4.42" fill="#16cc16"/><rect x="607.20" y="197.36" width="2" height="2.45" fill="#16cc16"/><rect x="610.13" y="196.87" width="2" height="8.67" fill="#ee4040"/><rect x="613.07" y="196.22" width="2" height="9.33" fill="#16cc16"/><rect x="616.01" y="196.22" width="2" height="25.70" fill="#ee4040"/><rect x="618.94" y="217.00" width="2" height="4.91" fill="#16cc16"/><rect x="621.88" y="217.82" width="2" height="4.09" fill="#ee4040"/><rect x="624.82" y="221.42" width="2" height="1.31" fill="#ee4040"/><rect x="627.75" y="221.91" width="2" height="1.00" fill="#16cc16"/><rect x="630.69" y="221.10" width="2" height="1.64" fill="#16cc16"/><rect x="633.63" y="219.79" width="2" height="1.64" fill="#16cc16"/><rect x="636.56" y="219.79" width="2" height="9.17" fill="#ee4040"/><rect x="639.50" y="227.64" width="2" height="6.87" fill="#ee4040"/><rect x="642.44" y="224.04" width="2" height="10.47" fill="#16cc16"/><rect x="645.37" y="221.91" width="2" height="2.78" fill="#16cc16"/><rect x="648.31" y="221.91" width="2" height="42.55" fill="#ee4040"/><rect x="651.25" y="251.19" width="2" height="13.91" fill="#16cc16"/><rect x="654.18" y="247.09" width="2" height="4.91" fill="#16cc16"/><rect x="657.12" y="244.97" width="2" height="2.95" fill="#16cc16"/><rect x="660.06" y="245.46" width="2" height="2.45" fill="#ee4040"/><rect x="662.99" y="237.77" width="2" height="9.33" fill="#16cc16"/><rect x="665.93" y="237.77" width="2" height="8.18" fill="#ee4040"/><rect x="668.87" y="243.82" width="2" height="2.13" fill="#16cc16"/><rect x="671.80" y="244.31" width="2" height="4.42" fill="#ee4040"/><rect x="674.74" y="247.59" width="2" height="2.78" fill="#ee4040"/><rect x="677.68" y="257.41" width="2" height="2.78" fill="#16cc16"/><rect x="680.61" y="257.41" width="2" height="3.93" fill="#ee4040"/><rect x="683.55" y="261.33" width="2" height="29.13" fill="#ee4040"/><rect x="686.49" y="283.59" width="2" height="5.24" fill="#16cc16"/><rect x="689.42" y="278.19" width="2" height="6.06" fill="#16cc16"/><rect x="692.36" y="278.19" width="2" height="3.76" fill="#ee4040"/><rect x="695.30" y="279.83" width="2" height="1.64" fill="#16cc16"/><rect x="698.23" y="279.83" width="2" height="1.64" fill="#ee4040"/><rect x="701.17" y="281.46" width="2" height="8.18" fill="#ee4040"/><rect x="704.11" y="280.65" width="2" height="9.00" fill="#16cc16"/><rect x="707.04" y="266.73" width="2" height="14.73" fill="#16cc16"/><rect x="709.98" y="266.73" width="2" height="2.13" fill="#ee4040"/><rect x="712.92" y="265.10" width="2" height="3.76" fill="#16cc16"/><rect x="715.85" y="261.33" width="2" height="4.26" fill="#16cc16"/><rect x="718.79" y="261.33" width="2" height="8.18" fill="#ee4040"/></g>
<line x1="649.6" y1="265.5" x2="869.7" y2="265.5" stroke="#525a6a" stroke-width="1.1"/>
<line x1="651" y1="266.5" x2="686" y2="292.5" stroke="#555a66" stroke-width="1" stroke-dasharray="3,3"/>
<path d="M729.5,140 L735.2,149.4 L731.9,149.4 L731.9,154.1 L727,154.1 L727,149.4 L723.8,149.4 Z" fill="#3a4552"/>
<rect x="729.8" y="148.6" width="1" height="2.6" fill="#22cc22"/><rect x="727.8" y="151.9" width="3.2" height="1.2" fill="#22cc22"/>
<rect x="826.8" y="116.2" width="66" height="48.1" rx="2" fill="#e3eefa"/>
<rect x="821.3" y="232.3" width="71" height="48" rx="2" fill="#e3eefa" fill-opacity="0.82"/>
<path d="M868.2,280.3 L892.2,280.3 L892.2,335 L870.2,335 Q868.2,335 868.2,333 Z" fill="#e3eefa" fill-opacity="0.92"/>
<line x1="0" y1="269" x2="892" y2="269" stroke="#fcdada" stroke-width="1"/>
<line x1="0" y1="269" x2="892" y2="269" stroke="#f39090" stroke-width="1" stroke-dasharray="1,1"/>
<g stroke="#3a3a48" stroke-width="1" fill="none"><line x1="834.7" y1="125.2" x2="841.3" y2="125.2"/><line x1="834.7" y1="135.0" x2="841.3" y2="135.0"/><line x1="838" y1="127.2" x2="838" y2="133.0"/></g><path d="M836.4,128.6 L838,126.60000000000001 L839.6,128.6 Z M836.4,131.6 L838,133.6 L839.6,131.6 Z" fill="#3a3a48"/>
<path d="M834.0,146.1 L834.9,147.70000000000002 L834.9,154.1 L834.0,155.70000000000002 L833.1,154.1 L833.1,147.70000000000002 Z M842.4000000000001,146.1 L843.3000000000001,147.70000000000002 L843.3000000000001,154.1 L842.4000000000001,155.70000000000002 L841.5000000000001,154.1 L841.5000000000001,147.70000000000002 Z" fill="#4a4a58"/><line x1="836.2" y1="150.9" x2="840.2" y2="150.9" stroke="#3a3a48" stroke-width="1"/><path d="M835.2,150.9 L836.7,149.4 L836.7,152.4 Z M841.2,150.9 L839.7,149.4 L839.7,152.4 Z" fill="#3a3a48"/>
<text x="849.2" y="132.6" font-family='"Liberation Sans", sans-serif' font-size="9.2" font-weight="normal" fill="#3c3c44" text-anchor="start" textLength="43" lengthAdjust="spacingAndGlyphs">0.07225 (5.7</text>
<text x="849.2" y="152.8" font-family='"Liberation Sans", sans-serif' font-size="9.2" font-weight="normal" fill="#3c3c44" text-anchor="start" textLength="29" lengthAdjust="spacingAndGlyphs">792 bars</text>
<g stroke="#3a3a48" stroke-width="1" fill="none"><line x1="828.7" y1="241.2" x2="835.3" y2="241.2"/><line x1="828.7" y1="251.39999999999998" x2="835.3" y2="251.39999999999998"/><line x1="832" y1="243.2" x2="832" y2="249.39999999999998"/></g><path d="M830.4,244.6 L832,242.6 L833.6,244.6 Z M830.4,247.99999999999997 L832,249.99999999999997 L833.6,247.99999999999997 Z" fill="#3a3a48"/>
<path d="M828.35,262.09999999999997 L829.25,263.7 L829.25,270.09999999999997 L828.35,271.7 L827.45,270.09999999999997 L827.45,263.7 Z M836.4499999999999,262.09999999999997 L837.3499999999999,263.7 L837.3499999999999,270.09999999999997 L836.4499999999999,271.7 L835.55,270.09999999999997 L835.55,263.7 Z" fill="#4a4a58"/><line x1="830.4" y1="266.9" x2="834.4" y2="266.9" stroke="#3a3a48" stroke-width="1"/><path d="M829.4,266.9 L830.9,265.4 L830.9,268.4 Z M835.4,266.9 L833.9,265.4 L833.9,268.4 Z" fill="#3a3a48"/>
<text x="843.3" y="248.7" font-family='"Liberation Sans", sans-serif' font-size="9.2" font-weight="normal" fill="#3c3c44" text-anchor="start" textLength="49" lengthAdjust="spacingAndGlyphs">0.01318 (1.02%</text>
<text x="843.3" y="268.6" font-family='"Liberation Sans", sans-serif' font-size="9.2" font-weight="normal" fill="#3c3c44" text-anchor="start" textLength="29" lengthAdjust="spacingAndGlyphs">268 bars</text>
<g opacity="0.2"><g stroke="#3a3a48" stroke-width="1" fill="none"><line x1="861.2" y1="250.5" x2="867.8" y2="250.5"/><line x1="861.2" y1="257.0" x2="867.8" y2="257.0"/><line x1="864.5" y1="252.5" x2="864.5" y2="255.0"/></g><path d="M862.9,253.9 L864.5,251.9 L866.1,253.9 Z M862.9,253.6 L864.5,255.6 L866.1,253.6 Z" fill="#3a3a48"/><path d="M860.0,268.7 L860.9,270.3 L860.9,276.7 L860.0,278.3 L859.1,276.7 L859.1,270.3 Z M868.0,268.7 L868.9,270.3 L868.9,276.7 L868.0,278.3 L867.1,276.7 L867.1,270.3 Z" fill="#4a4a58"/><line x1="862" y1="273.5" x2="866" y2="273.5" stroke="#3a3a48" stroke-width="1"/><path d="M861,273.5 L862.5,272.0 L862.5,275.0 Z M867,273.5 L865.5,272.0 L865.5,275.0 Z" fill="#3a3a48"/></g>
<text x="876" y="255.3" font-family='"Liberation Sans", sans-serif' font-size="8.5" font-weight="normal" fill="#c0c8d6" text-anchor="start" textLength="18" lengthAdjust="spacingAndGlyphs">−0.01</text>
<text x="877" y="276.6" font-family='"Liberation Sans", sans-serif' font-size="8.5" font-weight="normal" fill="#c0c8d6" text-anchor="start" textLength="16" lengthAdjust="spacingAndGlyphs">170 b</text>
<g stroke="#3a3a48" stroke-width="1" fill="none"><line x1="875.4000000000001" y1="295" x2="882.0" y2="295"/><line x1="875.4000000000001" y1="305.5" x2="882.0" y2="305.5"/><line x1="878.7" y1="297" x2="878.7" y2="303.5"/></g><path d="M877.1,298.4 L878.7,296.4 L880.3000000000001,298.4 Z M877.1,302.1 L878.7,304.1 L880.3000000000001,302.1 Z" fill="#3a3a48"/>
<path d="M875.0,316.7 L875.9,318.3 L875.9,324.7 L875.0,326.3 L874.1,324.7 L874.1,318.3 Z M883.8,316.7 L884.6999999999999,318.3 L884.6999999999999,324.7 L883.8,326.3 L882.9,324.7 L882.9,318.3 Z" fill="#4a4a58"/><line x1="877.4" y1="321.5" x2="881.4" y2="321.5" stroke="#3a3a48" stroke-width="1"/><path d="M876.4,321.5 L877.9,320.0 L877.9,323.0 Z M882.4,321.5 L880.9,320.0 L880.9,323.0 Z" fill="#3a3a48"/>
<line x1="892.5" y1="0" x2="892.5" y2="550" stroke="#6a5ac8" stroke-width="1"/>
<line x1="0" y1="389.5" x2="932" y2="389.5" stroke="#6a5ac8" stroke-width="1.1"/>
<line x1="0" y1="529.3" x2="892.5" y2="529.3" stroke="#6a5ac8" stroke-width="1"/>
<line x1="893" y1="23.4" x2="895.5" y2="23.4" stroke="#6a5ac8" stroke-width="1"/>
<text x="898.5" y="26.6" font-family='"Liberation Sans", sans-serif' font-size="9" font-weight="normal" fill="#4d44a8" text-anchor="start" textLength="24.3" lengthAdjust="spacingAndGlyphs">1.35500</text>
<line x1="893" y1="46.4" x2="895.5" y2="46.4" stroke="#6a5ac8" stroke-width="1"/>
<text x="898.5" y="49.6" font-family='"Liberation Sans", sans-serif' font-size="9" font-weight="normal" fill="#4d44a8" text-anchor="start" textLength="24.3" lengthAdjust="spacingAndGlyphs">1.35000</text>
<line x1="893" y1="69.4" x2="895.5" y2="69.4" stroke="#6a5ac8" stroke-width="1"/>
<text x="898.5" y="72.6" font-family='"Liberation Sans", sans-serif' font-size="9" font-weight="normal" fill="#4d44a8" text-anchor="start" textLength="24.3" lengthAdjust="spacingAndGlyphs">1.34500</text>
<line x1="893" y1="92.4" x2="895.5" y2="92.4" stroke="#6a5ac8" stroke-width="1"/>
<text x="898.5" y="95.6" font-family='"Liberation Sans", sans-serif' font-size="9" font-weight="normal" fill="#4d44a8" text-anchor="start" textLength="24.3" lengthAdjust="spacingAndGlyphs">1.34000</text>
<line x1="893" y1="115.4" x2="895.5" y2="115.4" stroke="#6a5ac8" stroke-width="1"/>
<text x="898.5" y="118.6" font-family='"Liberation Sans", sans-serif' font-size="9" font-weight="normal" fill="#4d44a8" text-anchor="start" textLength="24.3" lengthAdjust="spacingAndGlyphs">1.33500</text>
<line x1="893" y1="138.4" x2="895.5" y2="138.4" stroke="#6a5ac8" stroke-width="1"/>
<text x="898.5" y="141.6" font-family='"Liberation Sans", sans-serif' font-size="9" font-weight="normal" fill="#4d44a8" text-anchor="start" textLength="24.3" lengthAdjust="spacingAndGlyphs">1.33000</text>
<line x1="893" y1="161.4" x2="895.5" y2="161.4" stroke="#6a5ac8" stroke-width="1"/>
<text x="898.5" y="164.6" font-family='"Liberation Sans", sans-serif' font-size="9" font-weight="normal" fill="#4d44a8" text-anchor="start" textLength="24.3" lengthAdjust="spacingAndGlyphs">1.32500</text>
<line x1="893" y1="184.4" x2="895.5" y2="184.4" stroke="#6a5ac8" stroke-width="1"/>
<text x="898.5" y="187.6" font-family='"Liberation Sans", sans-serif' font-size="9" font-weight="normal" fill="#4d44a8" text-anchor="start" textLength="24.3" lengthAdjust="spacingAndGlyphs">1.32000</text>
<line x1="893" y1="207.4" x2="895.5" y2="207.4" stroke="#6a5ac8" stroke-width="1"/>
<text x="898.5" y="210.6" font-family='"Liberation Sans", sans-serif' font-size="9" font-weight="normal" fill="#4d44a8" text-anchor="start" textLength="24.3" lengthAdjust="spacingAndGlyphs">1.31500</text>
<line x1="893" y1="230.4" x2="895.5" y2="230.4" stroke="#6a5ac8" stroke-width="1"/>
<text x="898.5" y="233.6" font-family='"Liberation Sans", sans-serif' font-size="9" font-weight="normal" fill="#4d44a8" text-anchor="start" textLength="24.3" lengthAdjust="spacingAndGlyphs">1.31000</text>
<line x1="893" y1="253.4" x2="895.5" y2="253.4" stroke="#6a5ac8" stroke-width="1"/>
<text x="898.5" y="256.6" font-family='"Liberation Sans", sans-serif' font-size="9" font-weight="normal" fill="#4d44a8" text-anchor="start" textLength="24.3" lengthAdjust="spacingAndGlyphs">1.30500</text>
<line x1="893" y1="276.4" x2="895.5" y2="276.4" stroke="#6a5ac8" stroke-width="1"/>
<text x="898.5" y="279.6" font-family='"Liberation Sans", sans-serif' font-size="9" font-weight="normal" fill="#4d44a8" text-anchor="start" textLength="24.3" lengthAdjust="spacingAndGlyphs">1.30000</text>
<line x1="893" y1="299.4" x2="895.5" y2="299.4" stroke="#6a5ac8" stroke-width="1"/>
<text x="898.5" y="302.6" font-family='"Liberation Sans", sans-serif' font-size="9" font-weight="normal" fill="#4d44a8" text-anchor="start" textLength="24.3" lengthAdjust="spacingAndGlyphs">1.29500</text>
<line x1="893" y1="322.4" x2="895.5" y2="322.4" stroke="#6a5ac8" stroke-width="1"/>
<text x="898.5" y="325.6" font-family='"Liberation Sans", sans-serif' font-size="9" font-weight="normal" fill="#4d44a8" text-anchor="start" textLength="24.3" lengthAdjust="spacingAndGlyphs">1.29000</text>
<line x1="893" y1="345.4" x2="895.5" y2="345.4" stroke="#6a5ac8" stroke-width="1"/>
<text x="898.5" y="348.6" font-family='"Liberation Sans", sans-serif' font-size="9" font-weight="normal" fill="#4d44a8" text-anchor="start" textLength="24.3" lengthAdjust="spacingAndGlyphs">1.28500</text>
<line x1="893" y1="368.4" x2="895.5" y2="368.4" stroke="#6a5ac8" stroke-width="1"/>
<text x="898.5" y="371.6" font-family='"Liberation Sans", sans-serif' font-size="9" font-weight="normal" fill="#4d44a8" text-anchor="start" textLength="24.3" lengthAdjust="spacingAndGlyphs">1.28000</text>
<line x1="893" y1="404.5" x2="895.5" y2="404.5" stroke="#6a5ac8" stroke-width="1"/>
<text x="898.5" y="407.7" font-family='"Liberation Sans", sans-serif' font-size="9" font-weight="normal" fill="#4d44a8" text-anchor="start" textLength="24.3" lengthAdjust="spacingAndGlyphs">0.00400</text>
<line x1="893" y1="435.0" x2="895.5" y2="435.0" stroke="#6a5ac8" stroke-width="1"/>
<text x="898.5" y="438.2" font-family='"Liberation Sans", sans-serif' font-size="9" font-weight="normal" fill="#4d44a8" text-anchor="start" textLength="24.3" lengthAdjust="spacingAndGlyphs">0.00200</text>
<line x1="893" y1="465.3" x2="895.5" y2="465.3" stroke="#6a5ac8" stroke-width="1"/>
<text x="898.5" y="468.5" font-family='"Liberation Sans", sans-serif' font-size="9" font-weight="normal" fill="#4d44a8" text-anchor="start" textLength="24.3" lengthAdjust="spacingAndGlyphs">0.00000</text>
<line x1="893" y1="495.5" x2="895.5" y2="495.5" stroke="#6a5ac8" stroke-width="1"/>
<text x="897.2" y="498.7" font-family='"Liberation Sans", sans-serif' font-size="9" font-weight="normal" fill="#4d44a8" text-anchor="start" textLength="33" lengthAdjust="spacingAndGlyphs">−0.00200</text>
<line x1="893" y1="525.8" x2="895.5" y2="525.8" stroke="#6a5ac8" stroke-width="1"/>
<text x="897.2" y="529.0" font-family='"Liberation Sans", sans-serif' font-size="9" font-weight="normal" fill="#4d44a8" text-anchor="start" textLength="33" lengthAdjust="spacingAndGlyphs">−0.00400</text>
<line x1="22" y1="529.5" x2="22" y2="532" stroke="#6a5ac8" stroke-width="1"/>
<text transform="translate(22,543.9) scale(0.78,1)" x="0" y="0" font-family='"Liberation Sans", sans-serif' font-size="9.6" font-weight="normal" fill="#4d44a8" text-anchor="middle">18</text>
<line x1="109" y1="529.5" x2="109" y2="532" stroke="#6a5ac8" stroke-width="1"/>
<text transform="translate(109,543.9) scale(0.78,1)" x="0" y="0" font-family='"Liberation Sans", sans-serif' font-size="9.6" font-weight="normal" fill="#4d44a8" text-anchor="middle">25</text>
<line x1="197.6" y1="529.5" x2="197.6" y2="532" stroke="#6a5ac8" stroke-width="1"/>
<text transform="translate(197.6,543.9) scale(0.78,1)" x="0" y="0" font-family='"Liberation Sans", sans-serif' font-size="9.6" font-weight="normal" fill="#4d44a8" text-anchor="middle">Dec</text>
<line x1="285.4" y1="529.5" x2="285.4" y2="532" stroke="#6a5ac8" stroke-width="1"/>
<text transform="translate(285.4,543.9) scale(0.78,1)" x="0" y="0" font-family='"Liberation Sans", sans-serif' font-size="9.6" font-weight="normal" fill="#4d44a8" text-anchor="middle">9</text>
<line x1="374.5" y1="529.5" x2="374.5" y2="532" stroke="#6a5ac8" stroke-width="1"/>
<text transform="translate(374.5,543.9) scale(0.78,1)" x="0" y="0" font-family='"Liberation Sans", sans-serif' font-size="9.6" font-weight="normal" fill="#4d44a8" text-anchor="middle">16</text>
<line x1="462.4" y1="529.5" x2="462.4" y2="532" stroke="#6a5ac8" stroke-width="1"/>
<text transform="translate(462.4,543.9) scale(0.78,1)" x="0" y="0" font-family='"Liberation Sans", sans-serif' font-size="9.6" font-weight="normal" fill="#4d44a8" text-anchor="middle">23</text>
<line x1="512.2" y1="529.5" x2="512.2" y2="532" stroke="#6a5ac8" stroke-width="1"/>
<text transform="translate(512.2,543.9) scale(0.78,1)" x="0" y="0" font-family='"Liberation Sans", sans-serif' font-size="9.6" font-weight="normal" fill="#4d44a8" text-anchor="middle">05:30</text>
<line x1="562" y1="529.5" x2="562" y2="532" stroke="#6a5ac8" stroke-width="1"/>
<text transform="translate(562,543.9) scale(0.78,1)" x="0" y="0" font-family='"Liberation Sans", sans-serif' font-size="9.6" font-weight="bold" fill="#4d44a8" text-anchor="middle">2020</text>
<line x1="626" y1="529.5" x2="626" y2="532" stroke="#6a5ac8" stroke-width="1"/>
<text transform="translate(626,543.9) scale(0.78,1)" x="0" y="0" font-family='"Liberation Sans", sans-serif' font-size="9.6" font-weight="normal" fill="#4d44a8" text-anchor="middle">8</text>
<line x1="679.1" y1="529.5" x2="679.1" y2="532" stroke="#6a5ac8" stroke-width="1"/>
<text transform="translate(679.1,543.9) scale(0.78,1)" x="0" y="0" font-family='"Liberation Sans", sans-serif' font-size="9.6" font-weight="normal" fill="#4d44a8" text-anchor="middle">13</text>
<line x1="767.4" y1="529.5" x2="767.4" y2="532" stroke="#6a5ac8" stroke-width="1"/>
<text transform="translate(767.4,543.9) scale(0.78,1)" x="0" y="0" font-family='"Liberation Sans", sans-serif' font-size="9.6" font-weight="normal" fill="#4d44a8" text-anchor="middle">20</text>
<line x1="855.8" y1="529.5" x2="855.8" y2="532" stroke="#6a5ac8" stroke-width="1"/>
<text transform="translate(855.8,543.9) scale(0.78,1)" x="0" y="0" font-family='"Liberation Sans", sans-serif' font-size="9.6" font-weight="normal" fill="#4d44a8" text-anchor="middle">27</text>
<rect x="892.5" y="206.3" width="36" height="13.1" fill="#22a022"/>
<line x1="892.5" y1="212.9" x2="895.5" y2="212.9" stroke="#ffffff" stroke-width="1"/>
<text x="897.8" y="216.1" font-family='"Liberation Sans", sans-serif' font-size="9.4" font-weight="bold" fill="#ffffff" text-anchor="start" textLength="25.2" lengthAdjust="spacingAndGlyphs">1.31361</text>
<rect x="892.5" y="258.3" width="36" height="13.1" fill="#3d3d3d"/>
<line x1="892.5" y1="264.9" x2="895.5" y2="264.9" stroke="#ffffff" stroke-width="1"/>
<text x="897.8" y="268.1" font-family='"Liberation Sans", sans-serif' font-size="9.4" font-weight="bold" fill="#ffffff" text-anchor="start" textLength="25.2" lengthAdjust="spacingAndGlyphs">1.30240</text>
<rect x="892.5" y="271.9" width="36" height="13.3" fill="#ea5050"/>
<line x1="892.5" y1="278.5" x2="895.5" y2="278.5" stroke="#ffffff" stroke-width="1"/>
<text x="897.8" y="281.7" font-family='"Liberation Sans", sans-serif' font-size="9.4" font-weight="bold" fill="#ffffff" text-anchor="start" textLength="25.2" lengthAdjust="spacingAndGlyphs">1.30161</text>
<rect x="892.5" y="285.7" width="36" height="12.9" fill="#ea5050"/>
<text x="895.3" y="295.3" font-family='"Liberation Sans", sans-serif' font-size="9.4" font-weight="bold" fill="#ffffff" text-anchor="start" textLength="28" lengthAdjust="spacingAndGlyphs">01:50:12</text>
<rect x="892.5" y="298.6" width="36" height="13.1" fill="#ff1010"/>
<line x1="892.5" y1="305.1" x2="895.5" y2="305.1" stroke="#ffffff" stroke-width="1"/>
<text x="897.8" y="308.3" font-family='"Liberation Sans", sans-serif' font-size="9.4" font-weight="bold" fill="#ffffff" text-anchor="start" textLength="25.2" lengthAdjust="spacingAndGlyphs">1.29621</text>
<text x="4.8" y="15.7" font-family='"Liberation Sans", sans-serif' font-size="10.3" font-weight="bold" fill="#47399a" text-anchor="start" textLength="133.3" lengthAdjust="spacingAndGlyphs">British Pound / U.S. Dollar, 240, FXCM</text>
<text x="4.8" y="405.7" font-family='"Liberation Sans", sans-serif' font-size="10.4" font-weight="normal" fill="#43389c" text-anchor="start" textLength="73" lengthAdjust="spacingAndGlyphs">MACD_VXI (13, 21, 8)</text>
</svg></body></html>
